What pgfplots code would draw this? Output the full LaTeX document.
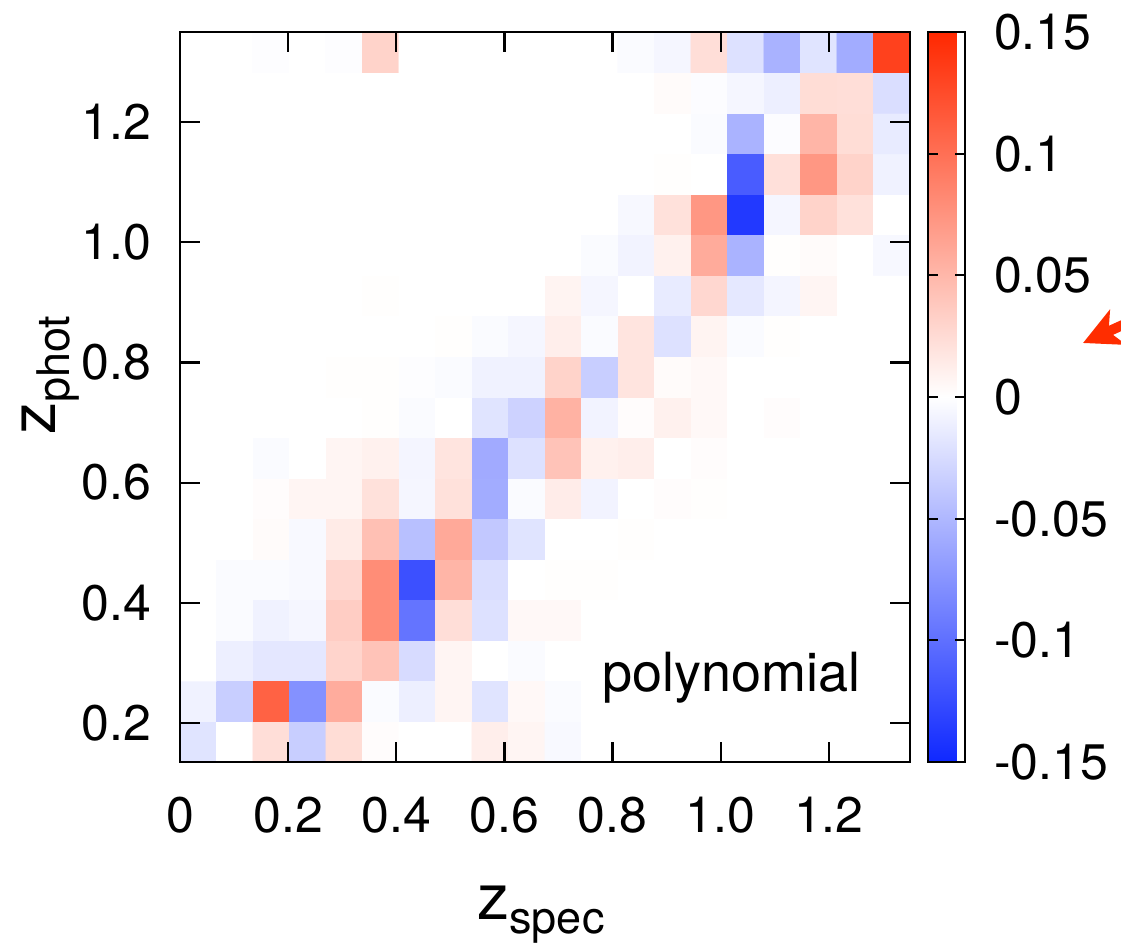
\documentclass[border=0pt]{standalone}
\usepackage{fontspec}
\setmainfont{TeX Gyre Heros}
\usepackage{pgfplots}
\pgfplotsset{compat=1.18}
\usetikzlibrary{arrows.meta}
\definecolor{arrowred}{RGB}{255,45,0}

\begin{document}
\begin{tikzpicture}
\useasboundingbox (-90pt,-92.5pt) rectangle (470.5pt,381pt);
\begin{axis}[
  at={(0,0)}, anchor=south west,
  scale only axis, width=365pt, height=365pt,
  xmin=0, xmax=1.35, ymin=0.135, ymax=1.35,
  axis on top,
  tick align=inside, xtick pos=both, ytick pos=both,
  major tick length=10pt,
  axis line style={line width=1.4pt},
  major tick style={line width=1.1pt, black},
  xtick={0,0.2,0.4,0.6,0.8,1.0,1.2},
  xticklabels={0,0.2,0.4,0.6,0.8,1.0,1.2},
  ytick={0.2,0.4,0.6,0.8,1.0,1.2},
  yticklabels={0.2,0.4,0.6,0.8,1.0,1.2},
  tick label style={font=\fontsize{25}{30}\selectfont},
  xticklabel style={yshift=-14pt},
  yticklabel style={xshift=-11pt},
  label style={font=\fontsize{32}{38}\selectfont},
  xlabel={z\raisebox{-7pt}{\fontsize{22.5}{27}\selectfont spec}},
  ylabel={z\raisebox{-7pt}{\fontsize{22.5}{27}\selectfont phot}},
  xlabel style={at={(axis description cs:0.4945,-0.2164)}, anchor=base},
  ylabel style={at={(axis description cs:-0.171,0.53)}, anchor=base},
  colormap={bwr}{rgb255=(15,40,255) rgb255=(255,255,255) rgb255=(255,40,0)},
  point meta min=-0.15, point meta max=0.15,
  colorbar,
  colorbar style={
    at={(parent axis.north east)}, anchor=north west, xshift=0.5pt,
    scale only axis, width=18.5pt, height=365pt,
    axis line style={line width=1pt},
    tick align=inside, ytick pos=both, yticklabel pos=right,
    major tick length=5pt,
    major tick style={line width=0.9pt, black},
    ytick={-0.15,-0.1,-0.05,0,0.05,0.1,0.15},
    yticklabels={-0.15,-0.1,-0.05,0,0.05,0.1,0.15},
    every y tick label/.style={anchor=west, xshift=11pt, font=\fontsize{25}{30}\selectfont},
  },
]
\addplot[matrix plot*, mesh/cols=20, point meta=explicit] table[row sep=\\, meta=c] {
x y c\\
0.03375 0.16875 -0.019\\ 0.10125 0.16875 0\\ 0.16875 0.16875 0.023\\ 0.23625 0.16875 -0.034\\ 0.30375 0.16875 0.024\\ 0.37125 0.16875 0.002\\ 0.43875 0.16875 0\\ 0.50625 0.16875 0\\ 0.57375 0.16875 0.012\\ 0.64125 0.16875 0.007\\ 0.70875 0.16875 -0.004\\ 0.77625 0.16875 0\\ 0.84375 0.16875 0\\ 0.91125 0.16875 0\\ 0.97875 0.16875 0\\ 1.04625 0.16875 0\\ 1.11375 0.16875 0\\ 1.18125 0.16875 0\\ 1.24875 0.16875 0\\ 1.31625 0.16875 0\\
0.03375 0.23625 -0.009\\ 0.10125 0.23625 -0.034\\ 0.16875 0.23625 0.110\\ 0.23625 0.23625 -0.077\\ 0.30375 0.23625 0.058\\ 0.37125 0.23625 -0.003\\ 0.43875 0.23625 -0.011\\ 0.50625 0.23625 0.007\\ 0.57375 0.23625 -0.019\\ 0.64125 0.23625 0.005\\ 0.70875 0.23625 -0.003\\ 0.77625 0.23625 0\\ 0.84375 0.23625 0\\ 0.91125 0.23625 0\\ 0.97875 0.23625 0\\ 1.04625 0.23625 0\\ 1.11375 0.23625 0\\ 1.18125 0.23625 0\\ 1.24875 0.23625 0\\ 1.31625 0.23625 0\\
0.03375 0.30375 0\\ 0.10125 0.30375 -0.011\\ 0.16875 0.30375 -0.017\\ 0.23625 0.30375 -0.017\\ 0.30375 0.30375 0.030\\ 0.37125 0.30375 0.042\\ 0.43875 0.30375 -0.025\\ 0.50625 0.30375 0.007\\ 0.57375 0.30375 0\\ 0.64125 0.30375 -0.003\\ 0.70875 0.30375 0\\ 0.77625 0.30375 0\\ 0.84375 0.30375 0\\ 0.91125 0.30375 0\\ 0.97875 0.30375 0\\ 1.04625 0.30375 0\\ 1.11375 0.30375 0\\ 1.18125 0.30375 0\\ 1.24875 0.30375 0\\ 1.31625 0.30375 0\\
0.03375 0.37125 0\\ 0.10125 0.37125 -0.003\\ 0.16875 0.37125 -0.009\\ 0.23625 0.37125 -0.006\\ 0.30375 0.37125 0.035\\ 0.37125 0.37125 0.080\\ 0.43875 0.37125 -0.097\\ 0.50625 0.37125 0.023\\ 0.57375 0.37125 -0.021\\ 0.64125 0.37125 0.005\\ 0.70875 0.37125 0.005\\ 0.77625 0.37125 0\\ 0.84375 0.37125 0\\ 0.91125 0.37125 0\\ 0.97875 0.37125 0\\ 1.04625 0.37125 0\\ 1.11375 0.37125 0\\ 1.18125 0.37125 0\\ 1.24875 0.37125 0\\ 1.31625 0.37125 0\\
0.03375 0.43875 0\\ 0.10125 0.43875 -0.003\\ 0.16875 0.43875 -0.003\\ 0.23625 0.43875 -0.004\\ 0.30375 0.43875 0.028\\ 0.37125 0.43875 0.080\\ 0.43875 0.43875 -0.122\\ 0.50625 0.43875 0.052\\ 0.57375 0.43875 -0.023\\ 0.64125 0.43875 0\\ 0.70875 0.43875 0.001\\ 0.77625 0.43875 0.001\\ 0.84375 0.43875 0\\ 0.91125 0.43875 0\\ 0.97875 0.43875 0\\ 1.04625 0.43875 0\\ 1.11375 0.43875 0\\ 1.18125 0.43875 0\\ 1.24875 0.43875 0\\ 1.31625 0.43875 0\\
0.03375 0.50625 0\\ 0.10125 0.50625 0\\ 0.16875 0.50625 0.003\\ 0.23625 0.50625 -0.004\\ 0.30375 0.50625 0.014\\ 0.37125 0.50625 0.044\\ 0.43875 0.50625 -0.044\\ 0.50625 0.50625 0.060\\ 0.57375 0.50625 -0.038\\ 0.64125 0.50625 -0.019\\ 0.70875 0.50625 0\\ 0.77625 0.50625 0\\ 0.84375 0.50625 0.001\\ 0.91125 0.50625 0\\ 0.97875 0.50625 0\\ 1.04625 0.50625 0\\ 1.11375 0.50625 0\\ 1.18125 0.50625 0\\ 1.24875 0.50625 0\\ 1.31625 0.50625 0\\
0.03375 0.57375 0\\ 0.10125 0.57375 0\\ 0.16875 0.57375 0.002\\ 0.23625 0.57375 0.007\\ 0.30375 0.57375 0.007\\ 0.37125 0.57375 0.021\\ 0.43875 0.57375 -0.006\\ 0.50625 0.57375 0.021\\ 0.57375 0.57375 -0.058\\ 0.64125 0.57375 -0.003\\ 0.70875 0.57375 0.013\\ 0.77625 0.57375 -0.008\\ 0.84375 0.57375 0\\ 0.91125 0.57375 0.002\\ 0.97875 0.57375 0.001\\ 1.04625 0.57375 0\\ 1.11375 0.57375 0\\ 1.18125 0.57375 0\\ 1.24875 0.57375 0\\ 1.31625 0.57375 0\\
0.03375 0.64125 0\\ 0.10125 0.64125 0\\ 0.16875 0.64125 -0.003\\ 0.23625 0.64125 0\\ 0.30375 0.64125 0.007\\ 0.37125 0.64125 0.010\\ 0.43875 0.64125 -0.007\\ 0.50625 0.64125 0.019\\ 0.57375 0.64125 -0.059\\ 0.64125 0.64125 -0.021\\ 0.70875 0.64125 0.042\\ 0.77625 0.64125 0.010\\ 0.84375 0.64125 0.012\\ 0.91125 0.64125 0\\ 0.97875 0.64125 0.002\\ 1.04625 0.64125 0\\ 1.11375 0.64125 0\\ 1.18125 0.64125 0\\ 1.24875 0.64125 0\\ 1.31625 0.64125 0\\
0.03375 0.70875 0\\ 0.10125 0.70875 0\\ 0.16875 0.70875 0\\ 0.23625 0.70875 0\\ 0.30375 0.70875 0\\ 0.37125 0.70875 0.001\\ 0.43875 0.70875 -0.003\\ 0.50625 0.70875 0\\ 0.57375 0.70875 -0.019\\ 0.64125 0.70875 -0.031\\ 0.70875 0.70875 0.054\\ 0.77625 0.70875 -0.008\\ 0.84375 0.70875 0.002\\ 0.91125 0.70875 0.010\\ 0.97875 0.70875 0.005\\ 1.04625 0.70875 0\\ 1.11375 0.70875 0.002\\ 1.18125 0.70875 0\\ 1.24875 0.70875 0\\ 1.31625 0.70875 0\\
0.03375 0.77625 0\\ 0.10125 0.77625 0\\ 0.16875 0.77625 0\\ 0.23625 0.77625 0\\ 0.30375 0.77625 0.001\\ 0.37125 0.77625 0.001\\ 0.43875 0.77625 -0.001\\ 0.50625 0.77625 -0.003\\ 0.57375 0.77625 -0.009\\ 0.64125 0.77625 -0.009\\ 0.70875 0.77625 0.031\\ 0.77625 0.77625 -0.034\\ 0.84375 0.77625 0.019\\ 0.91125 0.77625 0.003\\ 0.97875 0.77625 0.005\\ 1.04625 0.77625 0\\ 1.11375 0.77625 0\\ 1.18125 0.77625 0\\ 1.24875 0.77625 0\\ 1.31625 0.77625 0\\
0.03375 0.84375 0\\ 0.10125 0.84375 0\\ 0.16875 0.84375 0\\ 0.23625 0.84375 0\\ 0.30375 0.84375 0\\ 0.37125 0.84375 0\\ 0.43875 0.84375 0\\ 0.50625 0.84375 0.001\\ 0.57375 0.84375 -0.003\\ 0.64125 0.84375 -0.006\\ 0.70875 0.84375 0.012\\ 0.77625 0.84375 -0.003\\ 0.84375 0.84375 0.019\\ 0.91125 0.84375 -0.021\\ 0.97875 0.84375 0.008\\ 1.04625 0.84375 -0.003\\ 1.11375 0.84375 0.001\\ 1.18125 0.84375 0\\ 1.24875 0.84375 0\\ 1.31625 0.84375 0\\
0.03375 0.91125 0\\ 0.10125 0.91125 0\\ 0.16875 0.91125 0\\ 0.23625 0.91125 0\\ 0.30375 0.91125 0\\ 0.37125 0.91125 0.001\\ 0.43875 0.91125 0\\ 0.50625 0.91125 0\\ 0.57375 0.91125 0\\ 0.64125 0.91125 0\\ 0.70875 0.91125 0.008\\ 0.77625 0.91125 -0.006\\ 0.84375 0.91125 0\\ 0.91125 0.91125 -0.014\\ 0.97875 0.91125 0.028\\ 1.04625 0.91125 -0.016\\ 1.11375 0.91125 -0.007\\ 1.18125 0.91125 0.007\\ 1.24875 0.91125 0\\ 1.31625 0.91125 0\\
0.03375 0.97875 0\\ 0.10125 0.97875 0\\ 0.16875 0.97875 0\\ 0.23625 0.97875 0\\ 0.30375 0.97875 0\\ 0.37125 0.97875 0\\ 0.43875 0.97875 0\\ 0.50625 0.97875 0\\ 0.57375 0.97875 0\\ 0.64125 0.97875 0\\ 0.70875 0.97875 0\\ 0.77625 0.97875 -0.003\\ 0.84375 0.97875 -0.008\\ 0.91125 0.97875 0.010\\ 0.97875 0.97875 0.059\\ 1.04625 0.97875 -0.053\\ 1.11375 0.97875 0.001\\ 1.18125 0.97875 0.003\\ 1.24875 0.97875 0\\ 1.31625 0.97875 -0.005\\
0.03375 1.04625 0\\ 0.10125 1.04625 0\\ 0.16875 1.04625 0\\ 0.23625 1.04625 0\\ 0.30375 1.04625 0\\ 0.37125 1.04625 0\\ 0.43875 1.04625 0\\ 0.50625 1.04625 0\\ 0.57375 1.04625 0\\ 0.64125 1.04625 0\\ 0.70875 1.04625 0\\ 0.77625 1.04625 0\\ 0.84375 1.04625 -0.005\\ 0.91125 1.04625 0.021\\ 0.97875 1.04625 0.073\\ 1.04625 1.04625 -0.138\\ 1.11375 1.04625 -0.006\\ 1.18125 1.04625 0.031\\ 1.24875 1.04625 0.021\\ 1.31625 1.04625 0\\
0.03375 1.11375 0\\ 0.10125 1.11375 0\\ 0.16875 1.11375 0\\ 0.23625 1.11375 0\\ 0.30375 1.11375 0\\ 0.37125 1.11375 0\\ 0.43875 1.11375 0\\ 0.50625 1.11375 0\\ 0.57375 1.11375 0\\ 0.64125 1.11375 0\\ 0.70875 1.11375 0\\ 0.77625 1.11375 0\\ 0.84375 1.11375 0\\ 0.91125 1.11375 0.001\\ 0.97875 1.11375 0\\ 1.04625 1.11375 -0.114\\ 1.11375 1.11375 0.022\\ 1.18125 1.11375 0.073\\ 1.24875 1.11375 0.031\\ 1.31625 1.11375 -0.009\\
0.03375 1.18125 0\\ 0.10125 1.18125 0\\ 0.16875 1.18125 0\\ 0.23625 1.18125 0\\ 0.30375 1.18125 0\\ 0.37125 1.18125 0\\ 0.43875 1.18125 0\\ 0.50625 1.18125 0\\ 0.57375 1.18125 0\\ 0.64125 1.18125 0\\ 0.70875 1.18125 0\\ 0.77625 1.18125 0\\ 0.84375 1.18125 0\\ 0.91125 1.18125 0\\ 0.97875 1.18125 -0.003\\ 1.04625 1.18125 -0.053\\ 1.11375 1.18125 -0.002\\ 1.18125 1.18125 0.052\\ 1.24875 1.18125 0.024\\ 1.31625 1.18125 -0.014\\
0.03375 1.24875 0\\ 0.10125 1.24875 0\\ 0.16875 1.24875 0\\ 0.23625 1.24875 0\\ 0.30375 1.24875 0\\ 0.37125 1.24875 0\\ 0.43875 1.24875 0\\ 0.50625 1.24875 0\\ 0.57375 1.24875 0\\ 0.64125 1.24875 0\\ 0.70875 1.24875 0\\ 0.77625 1.24875 0\\ 0.84375 1.24875 0\\ 0.91125 1.24875 0.003\\ 0.97875 1.24875 -0.002\\ 1.04625 1.24875 -0.006\\ 1.11375 1.24875 -0.011\\ 1.18125 1.24875 0.024\\ 1.24875 1.24875 0.023\\ 1.31625 1.24875 -0.023\\
0.03375 1.31625 0\\ 0.10125 1.31625 0\\ 0.16875 1.31625 -0.001\\ 0.23625 1.31625 0\\ 0.30375 1.31625 -0.001\\ 0.37125 1.31625 0.031\\ 0.43875 1.31625 0\\ 0.50625 1.31625 0\\ 0.57375 1.31625 0\\ 0.64125 1.31625 0\\ 0.70875 1.31625 0\\ 0.77625 1.31625 0\\ 0.84375 1.31625 -0.003\\ 0.91125 1.31625 -0.006\\ 0.97875 1.31625 0.023\\ 1.04625 1.31625 -0.021\\ 1.11375 1.31625 -0.054\\ 1.18125 1.31625 -0.019\\ 1.24875 1.31625 -0.058\\ 1.31625 1.31625 0.133\\
};
\node[anchor=base, font=\fontsize{27}{32}\selectfont] at (axis description cs:0.755,0.096) {polynomial};
\end{axis}
\draw[arrowred, line width=5pt, -{Stealth[length=19pt, width=19pt, inset=5pt]}] (510pt,236pt) -- (451.5pt,209.5pt);
\end{tikzpicture}
\end{document}
